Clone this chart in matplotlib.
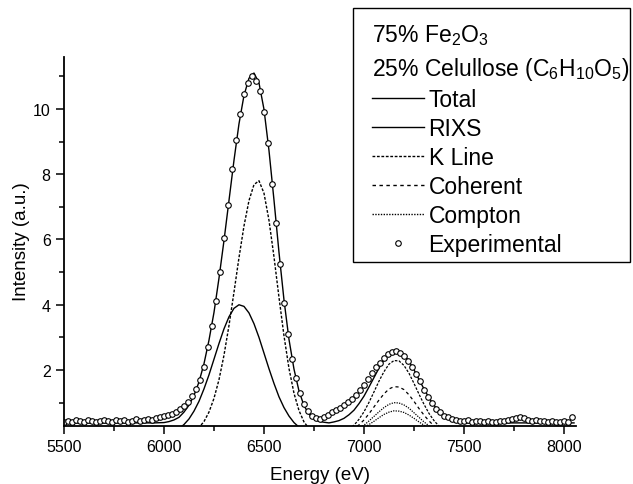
import matplotlib
matplotlib.use("Agg")
import matplotlib.pyplot as plt
from matplotlib.lines import Line2D
from matplotlib.patches import Rectangle
from matplotlib.ticker import MultipleLocator

plt.rcParams['font.family'] = ['Liberation Sans', 'DejaVu Sans']
plt.rcParams['mathtext.fontset'] = 'custom'
plt.rcParams['mathtext.rm'] = 'Liberation Sans'
plt.rcParams['mathtext.it'] = 'Liberation Sans:italic'

# --- data ---
# total fit (baseline + first peak + second peak)
total_e = [5500, 5600, 5700, 5800, 5900, 5950,
           6000, 6025, 6050, 6075, 6100, 6125, 6150, 6175, 6200, 6225,
           6250, 6275, 6300, 6325, 6350, 6375, 6400, 6425, 6450, 6475,
           6500, 6525, 6550, 6575, 6600, 6625, 6650, 6675, 6700, 6725,
           6750, 6775, 6800, 6825, 6850, 6875, 6900, 6925, 6950, 6975,
           7000, 7025, 7050, 7075, 7100, 7125, 7150, 7175, 7200, 7225,
           7250, 7275, 7300, 7325, 7350, 7375, 7400, 7425, 7450, 7475,
           7500, 7600, 7700, 7800, 7900, 8000, 8050]
total_i = [0.38, 0.38, 0.38, 0.38, 0.38, 0.38,
           0.39, 0.42, 0.47, 0.55, 0.71, 0.92, 1.22, 1.63, 2.19, 2.91,
           3.76, 4.81, 5.96, 7.19, 8.42, 9.54, 10.41, 10.94, 11.10, 10.80,
           9.99, 8.73, 7.21, 5.61, 4.15, 2.94, 2.03, 1.36, 0.91, 0.65,
           0.50, 0.43, 0.40, 0.38, 0.41, 0.45, 0.52, 0.63, 0.77, 0.97,
           1.20, 1.48, 1.77, 2.06, 2.31, 2.50, 2.59, 2.58, 2.47, 2.27,
           2.01, 1.71, 1.42, 1.15, 0.92, 0.74, 0.60, 0.51, 0.44, 0.40,
           0.38, 0.38, 0.38, 0.38, 0.38, 0.38, 0.38]

# first peak components
peak1_e = [6000, 6025, 6050, 6075, 6100, 6125, 6150, 6175, 6200, 6225,
           6250, 6275, 6300, 6325, 6350, 6375, 6400, 6425, 6450, 6475,
           6500, 6525, 6550, 6575, 6600, 6625, 6650, 6675, 6700, 6725,
           6750, 6775, 6800]
rixs_i = [0.04, 0.07, 0.12, 0.20, 0.33, 0.50, 0.74, 1.04, 1.42, 1.85,
          2.33, 2.81, 3.26, 3.63, 3.89, 4.00, 3.95, 3.75, 3.42, 3.00,
          2.52, 2.04, 1.59, 1.18, 0.85, 0.59, 0.39, 0.25, 0.15, 0.09,
          0.05, 0.03, 0.01]
kline_i = [0.00, 0.00, 0.00, 0.01, 0.03, 0.07, 0.13, 0.24, 0.42, 0.71,
           1.13, 1.70, 2.45, 3.36, 4.38, 5.44, 6.41, 7.19, 7.68, 7.80,
           7.42, 6.59, 5.47, 4.23, 3.05, 2.05, 1.29, 0.76, 0.41, 0.21,
           0.10, 0.05, 0.02]

# second peak components
peak2_e = [6850, 6875, 6900, 6925, 6950, 6975, 7000, 7025, 7050, 7075,
           7100, 7125, 7150, 7175, 7200, 7225, 7250, 7275, 7300, 7325,
           7350, 7375, 7400, 7425, 7450]
kline2_i = [0.03, 0.06, 0.11, 0.19, 0.31, 0.49, 0.72, 1.01, 1.33, 1.66,
            1.95, 2.18, 2.29, 2.28, 2.14, 1.90, 1.59, 1.26, 0.95, 0.67,
            0.45, 0.28, 0.17, 0.10, 0.05]
coherent_i = [0.02, 0.04, 0.07, 0.12, 0.20, 0.32, 0.47, 0.66, 0.87, 1.08,
              1.27, 1.42, 1.49, 1.48, 1.40, 1.24, 1.04, 0.82, 0.62, 0.44,
              0.29, 0.18, 0.11, 0.06, 0.03]
compton_i = [0.01, 0.03, 0.05, 0.08, 0.14, 0.21, 0.31, 0.44, 0.58, 0.72,
             0.85, 0.95, 1.00, 0.99, 0.93, 0.83, 0.69, 0.55, 0.41, 0.29,
             0.19, 0.12, 0.07, 0.04, 0.02]
compton2_i = [0.01, 0.02, 0.03, 0.06, 0.10, 0.16, 0.23, 0.33, 0.43, 0.54,
              0.64, 0.71, 0.75, 0.74, 0.70, 0.62, 0.52, 0.41, 0.31, 0.22,
              0.15, 0.09, 0.06, 0.03, 0.02]

# experimental points, every 20 eV from 5500
exp_e = list(range(5500, 8041, 20))
exp_i = [0.42, 0.45, 0.40, 0.47, 0.43, 0.41, 0.46, 0.44, 0.40, 0.45,
         0.48, 0.43, 0.41, 0.46, 0.44, 0.47, 0.42, 0.45, 0.49, 0.44,
         0.46, 0.50, 0.48, 0.52, 0.55,
         0.58, 0.62, 0.66, 0.72, 0.80, 0.90, 1.02, 1.20, 1.42, 1.70,
         2.10, 2.70, 3.35, 4.10, 5.00, 6.05, 7.05, 8.15, 9.05, 9.85,
         10.45, 10.80, 11.00, 10.85, 10.55, 9.90, 8.95, 7.70, 6.50, 5.25,
         4.05, 3.10, 2.35, 1.75, 1.30, 0.95, 0.75, 0.60, 0.52, 0.50,
         0.55, 0.62, 0.70, 0.78, 0.85, 0.92, 1.02, 1.12, 1.22, 1.40,
         1.55, 1.72, 1.90, 2.08, 2.22, 2.38, 2.48, 2.55, 2.58, 2.52,
         2.42, 2.28, 2.10, 1.88, 1.65, 1.40, 1.18, 0.98, 0.82, 0.70,
         0.60, 0.55, 0.50, 0.48, 0.45, 0.44, 0.46, 0.42, 0.45, 0.43,
         0.41, 0.44, 0.42, 0.40, 0.43, 0.45, 0.48, 0.50, 0.53, 0.55,
         0.52, 0.48, 0.45, 0.47, 0.43, 0.45, 0.42, 0.44, 0.41, 0.40,
         0.43, 0.42, 0.55]

kline_style = (0, (2.0, 1.2))
coherent_style = (0, (2.5, 2.5))
compton_style = (0, (1.0, 1.0))

W, H = 633, 485
fig = plt.figure(figsize=(W / 100, H / 100), dpi=100)
ax = fig.add_axes([0.101, 0.1206, 0.809, 0.7604])

ax.plot(total_e, total_i, color='black', lw=1.0)
ax.plot(peak1_e, rixs_i, color='black', lw=1.0)
ax.plot(peak1_e, kline_i, color='black', lw=1.0, linestyle=kline_style)
ax.plot(peak2_e, kline2_i, color='black', lw=0.9, linestyle=kline_style)
ax.plot(peak2_e, coherent_i, color='black', lw=0.9, linestyle=coherent_style)
ax.plot(peak2_e, compton_i, color='black', lw=0.9, linestyle=compton_style)
ax.plot(peak2_e, compton2_i, color='black', lw=0.9, linestyle=compton_style)
ax.plot(exp_e, exp_i, linestyle='none', marker='o', markersize=4,
        markerfacecolor='white', markeredgecolor='black', markeredgewidth=0.8)

ax.set_xlim(5500, 8060)
ax.set_ylim(0.3, 11.6)
ax.xaxis.set_major_locator(MultipleLocator(500))
ax.xaxis.set_minor_locator(MultipleLocator(250))
ax.yaxis.set_major_locator(MultipleLocator(2))
ax.yaxis.set_minor_locator(MultipleLocator(1))
ax.tick_params(which='major', direction='out', length=6, width=1.1, labelsize=11.5)
ax.tick_params(which='minor', direction='out', length=3.5, width=1.1)
ax.spines['top'].set_visible(False)
ax.spines['right'].set_visible(False)
ax.spines['left'].set_linewidth(1.3)
ax.spines['bottom'].set_linewidth(1.3)
ax.set_xlabel('Energy (eV)', fontsize=13.5, labelpad=9)
ax.set_ylabel('Intensity (a.u.)', fontsize=13.5, labelpad=2)

# legend box drawn by hand so the text can sit close to the right edge
box = Rectangle((353 / W, 1 - 263 / H), 277 / W, 254 / H, transform=fig.transFigure,
                facecolor='white', edgecolor='black', linewidth=1.0,
                clip_on=False, zorder=5)
ax.add_patch(box)

handles = [
    Line2D([], [], color='black', lw=1.0),
    Line2D([], [], color='black', lw=1.0),
    Line2D([], [], color='black', lw=1.0, linestyle=kline_style),
    Line2D([], [], color='black', lw=1.0, linestyle=coherent_style),
    Line2D([], [], color='black', lw=1.0, linestyle=compton_style),
    Line2D([], [], linestyle='none', marker='o', markersize=4,
           markerfacecolor='white', markeredgecolor='black', markeredgewidth=0.8),
]
labels = ['Total', 'RIXS', 'K Line', 'Coherent', 'Compton', 'Experimental']
leg = ax.legend(handles, labels, loc='upper left',
                bbox_to_anchor=(353 / W, 1 - 4 / H), bbox_transform=fig.transFigure,
                title='75% Fe$_2$O$_3$\n25% Celullose (C$_6$H$_{10}$O$_5$)',
                title_fontsize=16.5, fontsize=16.5, alignment='left',
                frameon=False, handlelength=2.25, handletextpad=0.2,
                labelspacing=0.26, borderpad=0.85, borderaxespad=0)
leg.get_title().set_linespacing(1.4)
leg.set_zorder(6)

fig.savefig('out.png', dpi=100)
